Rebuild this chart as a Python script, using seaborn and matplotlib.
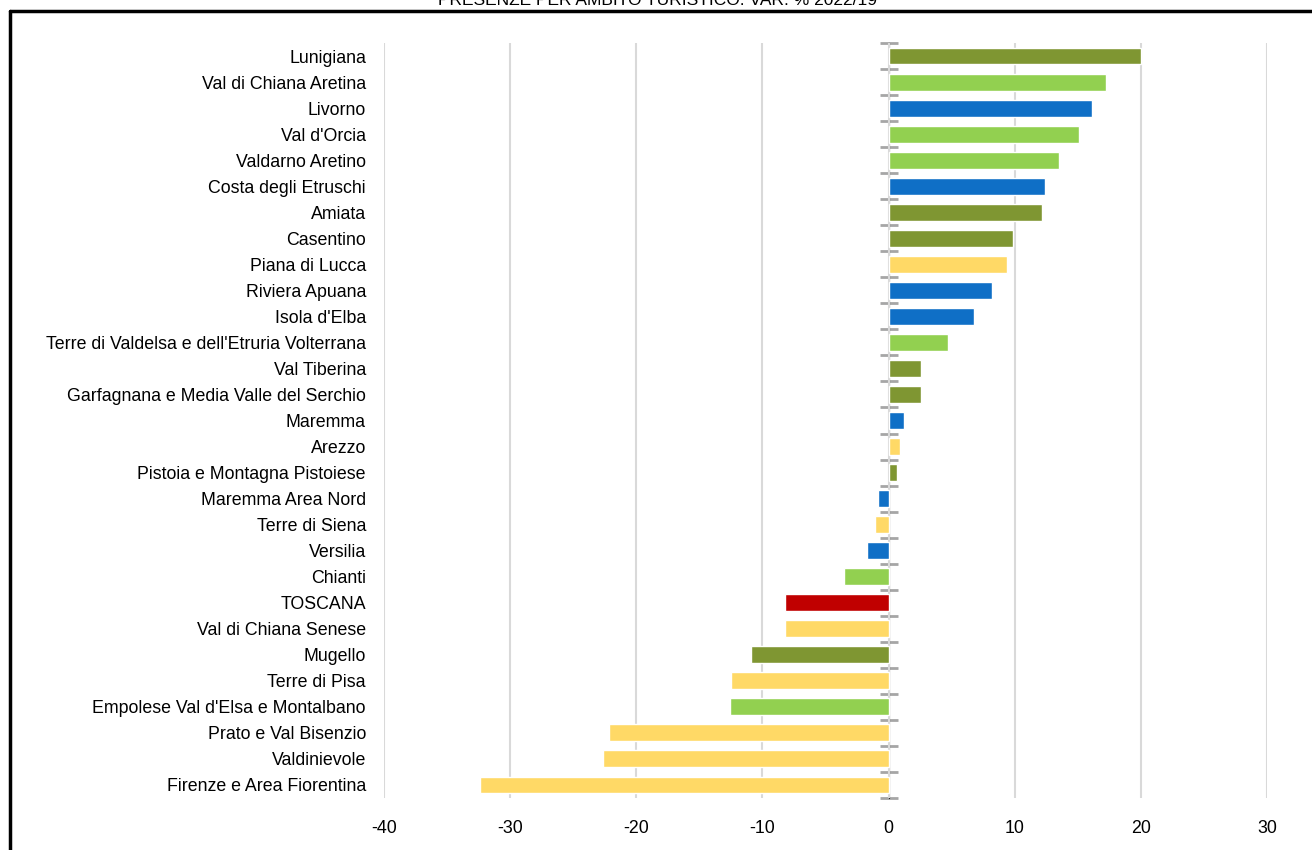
import numpy as np
import pandas as pd
import matplotlib
matplotlib.use("Agg")
import matplotlib.pyplot as plt
from matplotlib.lines import Line2D
import seaborn as sns

# --- data ---
ambiti = [
    "Lunigiana", "Val di Chiana Aretina", "Livorno", "Val d'Orcia", "Valdarno Aretino",
    "Costa degli Etruschi", "Amiata", "Casentino", "Piana di Lucca", "Riviera Apuana",
    "Isola d'Elba", "Terre di Valdelsa e dell'Etruria Volterrana", "Val Tiberina",
    "Garfagnana e Media Valle del Serchio", "Maremma", "Arezzo",
    "Pistoia e Montagna Pistoiese", "Maremma Area Nord", "Terre di Siena", "Versilia",
    "Chianti", "TOSCANA", "Val di Chiana Senese", "Mugello", "Terre di Pisa",
    "Empolese Val d'Elsa e Montalbano", "Prato e Val Bisenzio", "Valdinievole",
    "Firenze e Area Fiorentina",
]
var_pct = [
    20.0, 17.2, 16.1, 15.1, 13.5, 12.4, 12.2, 9.9, 9.4, 8.2,
    6.8, 4.7, 2.6, 2.6, 1.2, 0.9, 0.7, -0.8, -1.1, -1.7,
    -3.5, -8.2, -8.2, -10.9, -12.5, -12.6, -22.2, -22.6, -32.4,
]
tipo = [
    "montagna", "campagna", "mare", "campagna", "campagna",
    "mare", "montagna", "montagna", "citta", "mare",
    "mare", "campagna", "montagna", "montagna", "mare", "citta",
    "montagna", "mare", "citta", "mare",
    "campagna", "totale", "citta", "montagna", "citta",
    "campagna", "citta", "citta", "citta",
]
colori = {
    "montagna": "#7F9632",
    "campagna": "#92D050",
    "mare": "#0F6FC6",
    "citta": "#FFD966",
    "totale": "#C00000",
}
x_ticks = [-40, -30, -20, -10, 0, 10, 20, 30]
titolo = "PRESENZE PER AMBITO TURISTICO. VAR. % 2022/19"

df = pd.DataFrame({"ambito": ambiti, "var": var_pct, "tipo": tipo})

sns.set_style("white")
plt.rcParams["font.family"] = ["Liberation Sans", "DejaVu Sans"]

fig = plt.figure(figsize=(13.12, 8.5), dpi=100)
ax = fig.add_axes([384 / 1312, 1 - 798 / 850, (1267 - 384) / 1312, (798 - 43) / 850])

sns.barplot(data=df, y="ambito", x="var", hue="tipo", palette=colori,
            dodge=False, width=0.65, legend=False, saturation=1, ax=ax)

ax.set_xlim(-40, 30)
ax.set_ylim(len(ambiti) - 0.5, -0.5)
ax.set_xticks(x_ticks)
ax.set_xticklabels([str(t) for t in x_ticks])
ax.set_xlabel("")
ax.set_ylabel("")
ax.tick_params(axis="both", length=0, labelsize=12.8, colors="black")
ax.tick_params(axis="x", pad=16)
ax.tick_params(axis="y", pad=13)

ax.grid(axis="x", color="#D9D9D9", linewidth=1.5)
ax.set_axisbelow(True)
for s in ax.spines.values():
    s.set_visible(False)

# zero axis with cross ticks between categories
zero_pos = (0 - (-40)) / 70
sec = ax.secondary_yaxis(zero_pos)
sec.set_yticks(np.arange(-0.5, len(ambiti), 1.0))
sec.set_yticklabels([])
sec.tick_params(direction="inout", length=13, width=2, color="#A6A6A6")
sec.spines["left"].set_color("#A6A6A6")
sec.spines["left"].set_linewidth(2)

# frame of the original slide (cropped)
fig.add_artist(Line2D([10 / 1312, 1.0], [1 - 11 / 850, 1 - 11 / 850],
                      transform=fig.transFigure, color="black", linewidth=2.5))
fig.add_artist(Line2D([10 / 1312, 10 / 1312], [0.0, 1 - 11 / 850],
                      transform=fig.transFigure, color="black", linewidth=2.5))

fig.text(657 / 1312, 1 - 5 / 850, titolo, ha="center", va="baseline",
         fontsize=12.5, color="black")

fig.savefig("out.png", dpi=100)
